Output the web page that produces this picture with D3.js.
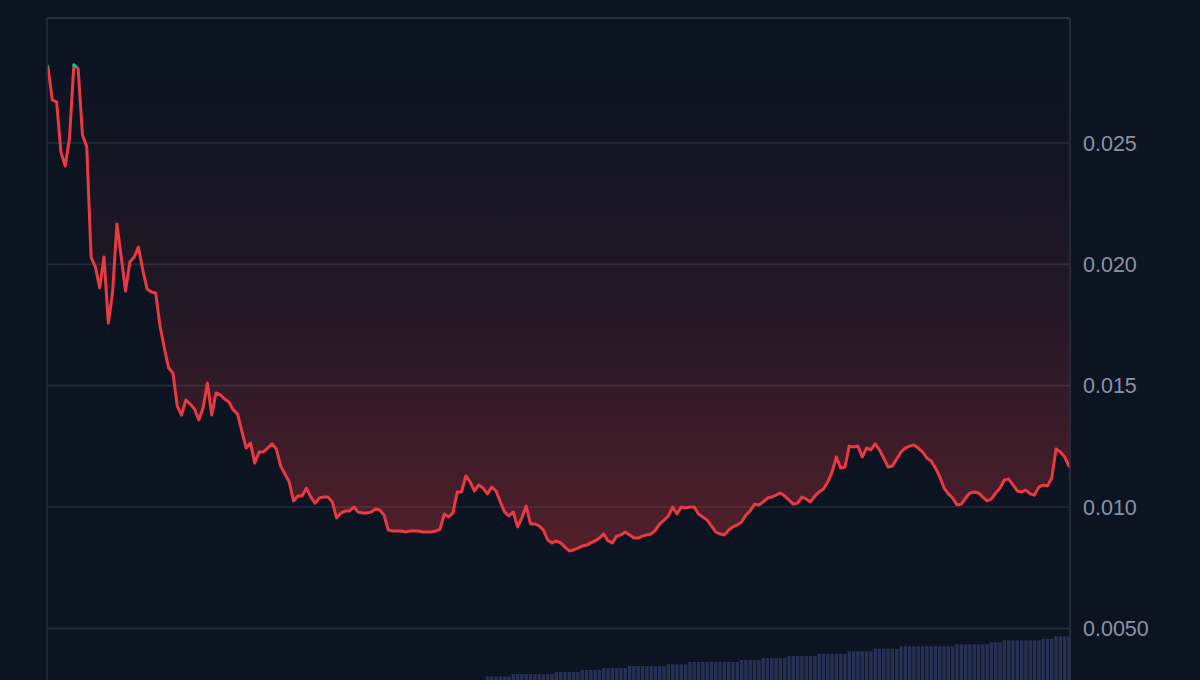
<!DOCTYPE html>
<html>
<head>
<meta charset="utf-8">
<script src="https://cdn.jsdelivr.net/npm/d3@7"></script>
<style>
  html, body { margin: 0; padding: 0; background: #0d1421; overflow: hidden; }
  svg { display: block; }
</style>
</head>
<body>
<svg id="chart" width="1200" height="680"></svg>
<script>
// ---- data ----
const prices = [
  0.02813, 0.02677, 0.02669, 0.02463, 0.02405, 0.02521, 0.02822, 0.02805, 0.02533, 0.02484,
  0.02030, 0.01989, 0.01903, 0.02030, 0.01758, 0.01886, 0.02166, 0.02030, 0.01890, 0.02010,
  0.02030, 0.02071, 0.01977, 0.01898, 0.01886, 0.01882, 0.01746, 0.01655, 0.01573, 0.01552,
  0.01416, 0.01379, 0.01441, 0.01424, 0.01404, 0.01359, 0.01408, 0.01511, 0.01379, 0.01470,
  0.01462, 0.01445, 0.01433, 0.01400, 0.01383, 0.01313, 0.01243, 0.01264, 0.01181, 0.01227,
  0.01227, 0.01243, 0.01260, 0.01239, 0.01169, 0.01136, 0.01103, 0.01025, 0.01045, 0.01045,
  0.01078, 0.01041, 0.01016, 0.01037, 0.01041, 0.01041, 0.01021, 0.00955, 0.00975, 0.00984,
  0.00984, 0.01000, 0.00979, 0.00975, 0.00975, 0.00979, 0.00992, 0.00988, 0.00967, 0.00905,
  0.00901, 0.00901, 0.00901, 0.00897, 0.00901, 0.00901, 0.00901, 0.00897, 0.00897, 0.00897,
  0.00901, 0.00909, 0.00971, 0.00959, 0.00975, 0.01062, 0.01062, 0.01128, 0.01103, 0.01066,
  0.01091, 0.01078, 0.01054, 0.01082, 0.01066, 0.01021, 0.00979, 0.00963, 0.00979, 0.00918,
  0.00955, 0.01004, 0.00930, 0.00930, 0.00922, 0.00905, 0.00864, 0.00852, 0.00860, 0.00852,
  0.00835, 0.00819, 0.00823, 0.00831, 0.00839, 0.00843, 0.00852, 0.00860, 0.00872, 0.00889,
  0.00860, 0.00852, 0.00880, 0.00885, 0.00897, 0.00885, 0.00872, 0.00872, 0.00880, 0.00885,
  0.00889, 0.00905, 0.00930, 0.00946, 0.00963, 0.01000, 0.00971, 0.01000, 0.00996, 0.01000,
  0.01000, 0.00971, 0.00959, 0.00946, 0.00922, 0.00897, 0.00889, 0.00885, 0.00905, 0.00918,
  0.00926, 0.00938, 0.00967, 0.00984, 0.01012, 0.01008, 0.01021, 0.01037, 0.01041, 0.01049,
  0.01058, 0.01045, 0.01029, 0.01012, 0.01016, 0.01041, 0.01033, 0.01021, 0.01045, 0.01062,
  0.01074, 0.01103, 0.01144, 0.01206, 0.01161, 0.01165, 0.01251, 0.01247, 0.01251, 0.01206,
  0.01243, 0.01235, 0.01260, 0.01235, 0.01202, 0.01165, 0.01169, 0.01198, 0.01227, 0.01243,
  0.01251, 0.01256, 0.01243, 0.01227, 0.01202, 0.01190, 0.01161, 0.01124, 0.01078, 0.01054,
  0.01037, 0.01008, 0.01012, 0.01037, 0.01058, 0.01062, 0.01058, 0.01041, 0.01025, 0.01033,
  0.01058, 0.01078, 0.01111, 0.01115, 0.01091, 0.01066, 0.01062, 0.01070, 0.01054, 0.01049,
  0.01082, 0.01091, 0.01087, 0.01120, 0.01239, 0.01227, 0.01206, 0.01169
];

// volume histogram (starts at point index volumeStart)
const volumeStart = 102;
const volumes = [
  29.6, 29.6, 29.6, 29.6, 29.6, 29.6,
  32.5, 32.5, 32.5, 32.5, 32.5, 32.5, 32.5, 32.5, 32.5, 32.5,
  35.0, 35.0, 35.0, 35.0, 35.0, 35.0,
  37.5, 37.5, 37.5, 37.5, 37.5,
  40.0, 40.0, 40.0, 40.0, 40.0, 40.0,
  42.5, 42.5, 42.5, 42.5, 42.5, 42.5, 42.5, 42.5, 42.5,
  44.6, 44.6, 44.6, 44.6, 44.6,
  47.5, 47.5, 47.5, 47.5, 47.5, 47.5, 47.5, 47.5, 47.5, 47.5, 47.5, 47.5,
  50.0, 50.0, 50.0, 50.0, 50.0,
  52.5, 52.5, 52.5, 52.5, 52.5, 52.5,
  55.0, 55.0, 55.0, 55.0, 55.0, 55.0, 55.0,
  57.5, 57.5, 57.5, 57.5, 57.5, 57.5, 57.5,
  61.0, 61.0, 61.0, 61.0, 61.0, 61.0,
  64.0, 64.0, 64.0, 64.0, 64.0, 64.0,
  67.1, 67.1, 67.1, 67.1, 67.1, 67.1, 67.1, 67.1, 67.1, 67.1, 67.1, 67.1, 67.1,
  69.6, 69.6, 69.6, 69.6, 69.6, 69.6, 69.6, 69.6,
  72.1, 72.1, 72.1,
  74.6, 74.6, 74.6, 74.6, 74.6, 74.6, 74.6, 74.6, 74.6,
  76.6, 76.6, 76.6,
  79.6, 79.6, 79.6, 79.6
];

const tickValues = [0.025, 0.020, 0.015, 0.010, 0.005];
const tickLabels = ["0.025", "0.020", "0.015", "0.010", "0.0050"];

// ---- layout ----
const W = 1200, H = 680;
const plotLeft = 47, plotRight = 1070, plotTop = 18;
const baseline = prices[0];

const svg = d3.select("#chart");
const defs = svg.append("defs");

const x = d3.scaleLinear().domain([0, prices.length - 1]).range([48, 1069]);
const y = d3.scaleLinear().domain([0.002871, 0.030151]).range([680, 18]);
const yv = d3.scaleLinear().domain([0, 100]).range([700, 620]);

const baseY = y(baseline);

// background
svg.append("rect").attr("width", W).attr("height", H).attr("fill", "#0d1421");

// gridlines
svg.append("g").selectAll("line").data(tickValues).join("line")
  .attr("x1", plotLeft).attr("x2", plotRight)
  .attr("y1", d => y(d)).attr("y2", d => y(d))
  .attr("stroke", "#252b39").attr("stroke-width", 1.6);

// clip paths
defs.append("clipPath").attr("id", "below")
  .append("rect").attr("x", plotLeft).attr("y", baseY).attr("width", plotRight - plotLeft).attr("height", H);
defs.append("clipPath").attr("id", "above")
  .append("rect").attr("x", plotLeft).attr("y", 0).attr("width", plotRight - plotLeft).attr("height", baseY);

// gradients
const gRed = defs.append("linearGradient").attr("id", "gradRed")
  .attr("gradientUnits", "userSpaceOnUse").attr("x1", 0).attr("x2", 0).attr("y1", baseY).attr("y2", 560);
gRed.append("stop").attr("offset", 0).attr("stop-color", "#ea3943").attr("stop-opacity", 0.0);
gRed.append("stop").attr("offset", 0.5).attr("stop-color", "#ea3943").attr("stop-opacity", 0.1);
gRed.append("stop").attr("offset", 1).attr("stop-color", "#ea3943").attr("stop-opacity", 0.32);

const gGreen = defs.append("linearGradient").attr("id", "gradGreen")
  .attr("gradientUnits", "userSpaceOnUse").attr("x1", 0).attr("x2", 0).attr("y1", baseY).attr("y2", plotTop);
gGreen.append("stop").attr("offset", 0).attr("stop-color", "#16c784").attr("stop-opacity", 0.05);
gGreen.append("stop").attr("offset", 1).attr("stop-color", "#16c784").attr("stop-opacity", 0.3);

// areas
const area = d3.area().x((d, i) => x(i)).y0(baseY).y1(d => y(d));
svg.append("path").datum(prices).attr("d", area).attr("fill", "url(#gradRed)").attr("clip-path", "url(#below)");
svg.append("path").datum(prices).attr("d", area).attr("fill", "url(#gradGreen)").attr("clip-path", "url(#above)");

// volume bars
const step = x(1) - x(0);
const bw = step * 0.78;
svg.append("g").selectAll("rect").data(volumes).join("rect")
  .attr("x", (d, k) => x(volumeStart + k) - bw / 2)
  .attr("y", d => yv(d))
  .attr("width", bw)
  .attr("height", d => yv(0) - yv(d))
  .attr("fill", "#263155");

// lines
const line = d3.line().x((d, i) => x(i)).y(d => y(d));
svg.append("path").datum(prices).attr("d", line)
  .attr("fill", "none").attr("stroke", "#ea3943").attr("stroke-width", 3)
  .attr("stroke-linejoin", "round").attr("stroke-linecap", "round")
  .attr("clip-path", "url(#below)");
svg.append("path").datum(prices).attr("d", line)
  .attr("fill", "none").attr("stroke", "#16c784").attr("stroke-width", 3)
  .attr("stroke-linejoin", "round").attr("stroke-linecap", "round")
  .attr("clip-path", "url(#above)");

// borders
svg.append("line").attr("x1", plotLeft).attr("x2", plotRight).attr("y1", plotTop).attr("y2", plotTop)
  .attr("stroke", "#343a47").attr("stroke-width", 1.6);
svg.append("line").attr("x1", plotLeft).attr("x2", plotLeft).attr("y1", plotTop).attr("y2", H)
  .attr("stroke", "#252b39").attr("stroke-width", 1.6);
svg.append("line").attr("x1", plotRight).attr("x2", plotRight).attr("y1", plotTop).attr("y2", H)
  .attr("stroke", "#2c3240").attr("stroke-width", 1.6);

// price axis labels
svg.append("g").selectAll("text").data(tickValues).join("text")
  .attr("x", 1083)
  .attr("y", d => y(d))
  .attr("dy", "0.36em")
  .attr("fill", "#8a93a6")
  .attr("font-family", "'Liberation Sans', Arial, sans-serif")
  .attr("font-size", "21.5px")
  .text((d, i) => tickLabels[i]);
</script>
</body>
</html>
